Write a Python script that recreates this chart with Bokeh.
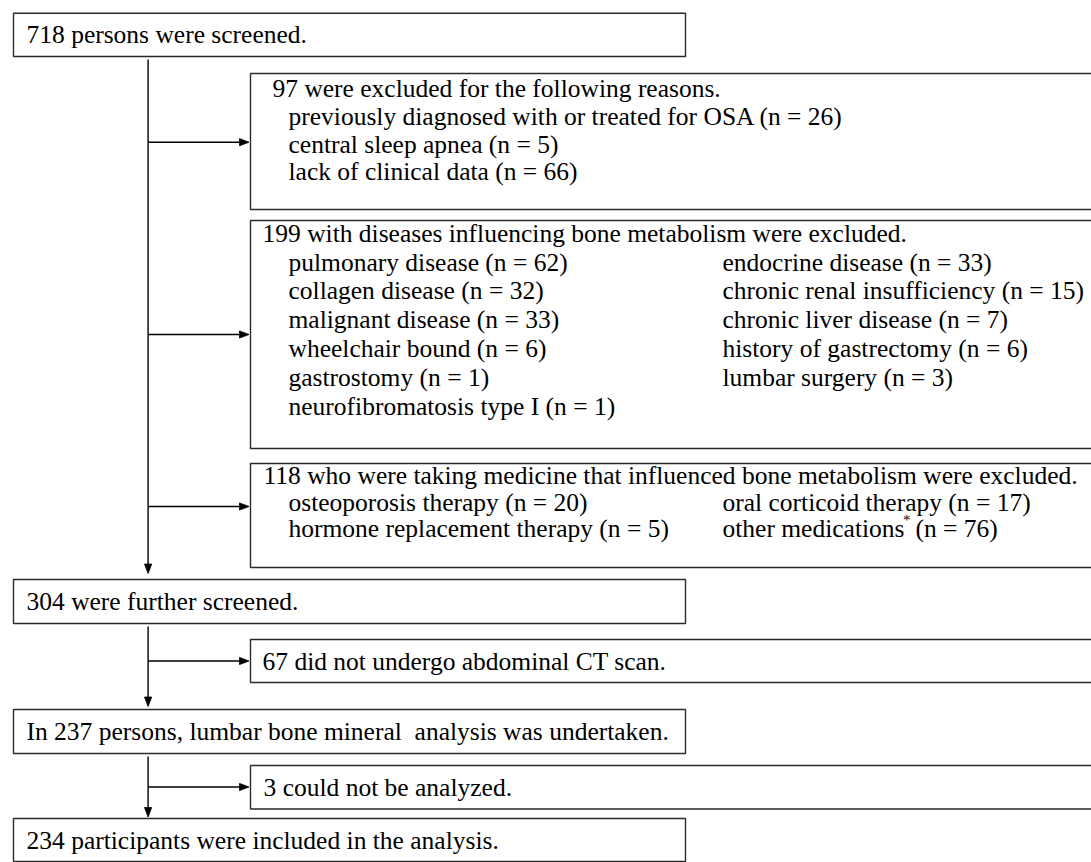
from bokeh.plotting import figure
from bokeh.models import Range1d, ColumnDataSource
from bokeh.core.properties import value
from bokeh.embed import file_html
from bokeh.resources import INLINE

# ---------------- data (counts and labels) ----------------
n_screened = 718
n_excl_first = 97
first_reasons = ["previously diagnosed with or treated for OSA", "central sleep apnea", "lack of clinical data"]
first_counts = [26, 5, 66]

n_disease = 199
disease_col1 = ["pulmonary disease", "collagen disease", "malignant disease", "wheelchair bound",
                "gastrostomy", "neurofibromatosis type I"]
disease_col1_counts = [62, 32, 33, 6, 1, 1]
disease_col2 = ["endocrine disease", "chronic renal insufficiency", "chronic liver disease",
                "history of gastrectomy", "lumbar surgery"]
disease_col2_counts = [33, 15, 7, 6, 3]

n_medicine = 118
med_col1 = ["osteoporosis therapy", "hormone replacement therapy"]
med_col1_counts = [20, 5]
med_col2 = ["oral corticoid therapy", "other medications"]
med_col2_counts = [17, 76]

n_further = 304
n_no_ct = 67
n_analysis = 237
n_not_analyzed = 3
n_included = 234

# ---------------- layout (pixel coordinates, y downward) ----------------
FONT = value("Liberation Serif")
FS = "25.5px"
LC = "#2a2a2a"
DY = -9  # baseline correction

p = figure(width=1091, height=862, x_range=Range1d(0, 1091), y_range=Range1d(862, 0),
           output_backend="svg", toolbar_location=None, min_border=0,
           background_fill_color="white", border_fill_color="white")
p.axis.visible = False
p.grid.visible = False
p.outline_line_color = None

XL, XR = 13, 685          # main boxes
BL, BR = 250, 1110        # side boxes (run past the right edge)

main_boxes = [(12.7, 56), (579, 623), (709, 753), (818, 861)]
side_boxes = [(73, 209), (220, 448), (463, 567), (639, 682), (765, 808.5)]

p.quad(left=[XL] * len(main_boxes), right=[XR] * len(main_boxes),
       top=[b[0] for b in main_boxes], bottom=[b[1] for b in main_boxes],
       fill_color=None, line_color=LC, line_width=1.4)
p.quad(left=[BL] * len(side_boxes), right=[BR] * len(side_boxes),
       top=[b[0] for b in side_boxes], bottom=[b[1] for b in side_boxes],
       fill_color=None, line_color=LC, line_width=1.4)

# connectors
VX = 147.6
vsegs = [(59, 573), (626, 706), (756, 816.5)]
p.segment(x0=[VX] * 3, x1=[VX] * 3, y0=[s[0] for s in vsegs], y1=[s[1] - 8 for s in vsegs],
          line_color="black", line_width=1.4)
hys = [141.7, 334, 506, 660.5, 786.5]
p.segment(x0=[VX] * len(hys), x1=[BL - 9] * len(hys), y0=hys, y1=hys,
          line_color="black", line_width=1.4)

# arrow heads (triangles)
xs, ys = [], []
for y in hys:
    tip = BL - 1.5
    xs.append([tip, tip - 9.5, tip - 9.5])
    ys.append([y, y - 3.6, y + 3.6])
for s in vsegs:
    tip = s[1]
    xs.append([VX, VX - 3.6, VX + 3.6])
    ys.append([tip, tip - 9.5, tip - 9.5])
p.patches(xs, ys, fill_color="black", line_color="black", line_width=0.8)

# texts
tx, ty, tt = [], [], []

def add(x, y, s):
    tx.append(x); ty.append(y + DY); tt.append(s)

add(26, 43.3, f"{n_screened} persons were screened.")

add(272, 97, f"{n_excl_first} were excluded for the following reasons.")
for i, (r, c) in enumerate(zip(first_reasons, first_counts)):
    add(288, 125 + i * 27.7, f"{r} (n = {c})")

add(262, 242, f"{n_disease} with diseases influencing bone metabolism were excluded.")
for i, (r, c) in enumerate(zip(disease_col1, disease_col1_counts)):
    add(288, 270.5 + i * 28.9, f"{r} (n = {c})")
for i, (r, c) in enumerate(zip(disease_col2, disease_col2_counts)):
    add(722, 270.5 + i * 28.9, f"{r} (n = {c})")

add(263, 483.5, f"{n_medicine} who were taking medicine that influenced bone metabolism were excluded.")
for i, (r, c) in enumerate(zip(med_col1, med_col1_counts)):
    add(288, 510.5 + i * 26.7, f"{r} (n = {c})")
add(722, 510.5, f"{med_col2[0]} (n = {med_col2_counts[0]})")
add(722, 537.2, med_col2[1])
add(915, 537.2, f"(n = {med_col2_counts[1]})")

add(26, 610, f"{n_further} were further screened.")
add(262, 669.5, f"{n_no_ct} did not undergo abdominal CT scan.")
add(26, 740, f"In {n_analysis} persons, lumbar bone mineral\u00a0 analysis was undertaken.")
add(263, 795.5, f"{n_not_analyzed} could not be analyzed.")
add(26, 848.5, f"{n_included} participants were included in the analysis.")

src = ColumnDataSource(dict(x=tx, y=ty, text=tt))
p.text(x="x", y="y", text="text", source=src, text_font=FONT, text_font_size=FS,
       text_color="black", text_baseline="alphabetic", text_align="left")

# superscript asterisk
p.text(x=[902.5], y=[528 + DY], text=["*"], text_font=FONT, text_font_size="15px",
       text_color="black", text_baseline="alphabetic", text_align="left")

open("out.html", "w").write(file_html(p, INLINE))
